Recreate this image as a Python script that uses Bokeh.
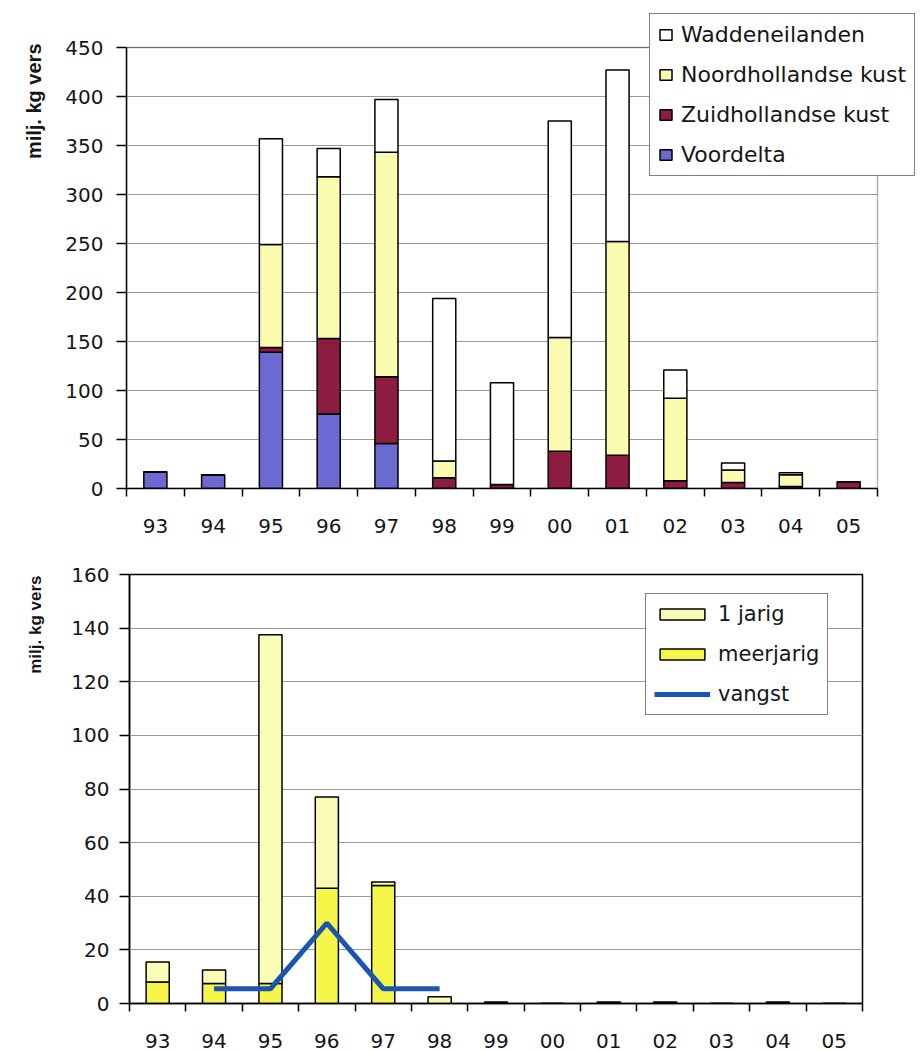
import math
from bokeh.plotting import figure
from bokeh.models import (Range1d, FixedTicker, Legend, LegendItem, ColumnDataSource,
                          BoxAnnotation, Title)
from bokeh.embed import file_html
from bokeh.resources import INLINE

# ---------------- data ----------------
years = ["93", "94", "95", "96", "97", "98", "99", "00", "01", "02", "03", "04", "05"]

# top chart (milj. kg vers), stacked bottom -> top
voordelta = [17, 14, 139, 76, 46, 0, 0, 0, 0, 0, 0, 0, 0]
zuidhollandse = [0, 0, 5, 77, 68, 11, 4, 38, 34, 8, 6, 2, 7]
noordhollandse = [0, 0, 105, 165, 229, 17, 0, 116, 218, 84, 13, 12, 0]
waddeneilanden = [0, 0, 108, 29, 54, 166, 104, 221, 175, 29, 7, 2, 0]

# bottom chart (Voordelta), stacked bottom -> top
meerjarig = [8, 7.5, 7.5, 43, 44, 0, 0, 0, 0, 0, 0, 0, 0]
eenjarig = [7.5, 5, 130, 34, 1.3, 2.5, 0.6, 0, 0.6, 0.6, 0, 0.6, 0]
vangst = [math.nan, 5.5, 5.5, 30, 5.5, 5.5, math.nan, math.nan, math.nan,
          math.nan, math.nan, math.nan, math.nan]

top_ticks = [0, 50, 100, 150, 200, 250, 300, 350, 400, 450]
bottom_ticks = [0, 20, 40, 60, 80, 100, 120, 140, 160]
y_label = "milj. kg vers"

# ---------------- styling ----------------
TICK_FONT = "DejaVu Sans"
LABEL_FONT = "Liberation Sans"
TXT = "#151515"
GRID = "#9a9a9a"

n = len(years)
xs = [i + 0.5 for i in range(n)]
bounds = list(range(n + 1))


def style(p, yticks, tick_standoff, label_size, label_standoff, label_offset):
    p.xgrid.visible = False
    p.background_fill_color = "white"
    p.border_fill_color = "white"

    xa = p.xaxis[0]
    xa.ticker = FixedTicker(ticks=xs, minor_ticks=bounds)
    xa.bounds = (0, n)
    xa.major_label_overrides = {x: y for x, y in zip(xs, years)}
    xa.major_tick_out = 0
    xa.major_tick_in = 0
    xa.minor_tick_out = 8
    xa.minor_tick_in = 0
    xa.minor_tick_line_color = "black"
    xa.minor_tick_line_width = 1.5
    xa.axis_line_color = "black"
    xa.axis_line_width = 1.5
    xa.major_label_text_font = TICK_FONT
    xa.major_label_text_font_size = "20px"
    xa.major_label_text_color = TXT
    xa.major_label_standoff = 22

    ya = p.yaxis[0]
    ya.ticker = FixedTicker(ticks=yticks)
    ya.bounds = (yticks[0], yticks[-1])
    ya.major_tick_out = 10
    ya.major_tick_in = 0
    ya.major_tick_line_color = "black"
    ya.major_tick_line_width = 1.5
    ya.minor_tick_line_color = None
    ya.axis_line_color = "black"
    ya.axis_line_width = 1.5
    ya.major_label_text_font = TICK_FONT
    ya.major_label_text_font_size = "20px"
    ya.major_label_text_color = TXT
    ya.major_label_standoff = tick_standoff

    t = Title(text=y_label, align="right", offset=label_offset,
              standoff=label_standoff, text_font=LABEL_FONT,
              text_font_style="bold", text_font_size=label_size,
              text_color=TXT)
    p.add_layout(t, "left")


# ---------------- top chart ----------------
# the frame is widened so that the legend may overlap the plot box edge
x_end = n * 792 / 751
y_end = top_ticks[-1] * 475 / 441

src1 = ColumnDataSource(dict(x=xs, voordelta=voordelta, zuid=zuidhollandse,
                             noord=noordhollandse, wadden=waddeneilanden))

p1 = figure(width=920, height=548, x_range=Range1d(0, x_end), y_range=Range1d(0, y_end),
            output_backend="svg", toolbar_location=None,
            min_border_left=126, min_border_right=2,
            min_border_top=13, min_border_bottom=60)
style(p1, top_ticks, 13, "20px", 36, 30)
p1.outline_line_color = None
p1.ygrid.visible = False
p1.segment(x0=0, x1=n, y0=top_ticks, y1=top_ticks, line_color=GRID,
           line_width=1, level="underlay")

r1 = p1.vbar_stack(["voordelta", "zuid", "noord", "wadden"], x="x", width=0.4,
                   fill_color=["#6a6ad2", "#8c1d40", "#fbfbb0", "#ffffff"],
                   line_color="black", line_width=1.5, source=src1)

p1.add_layout(BoxAnnotation(left=0, right=n, bottom=0, top=top_ticks[-1],
                            fill_alpha=0, line_color="black", line_width=1.5))

leg1 = Legend(items=[
    LegendItem(label="Waddeneilanden", renderers=[r1[3]]),
    LegendItem(label="Noordhollandse kust", renderers=[r1[2]]),
    LegendItem(label="Zuidhollandse kust", renderers=[r1[1]]),
    LegendItem(label="Voordelta", renderers=[r1[0]]),
], location=(523, 312))
leg1.label_text_font = TICK_FONT
leg1.label_text_font_size = "22px"
leg1.label_text_color = TXT
leg1.glyph_width = 15
leg1.glyph_height = 13
leg1.label_standoff = 8
leg1.label_height = 24
leg1.padding = 8
leg1.spacing = 15
leg1.margin = 0
leg1.border_line_color = "black"
leg1.border_line_width = 1.5
leg1.background_fill_color = "white"
leg1.background_fill_alpha = 1
p1.add_layout(leg1)

# ---------------- bottom chart ----------------
src2 = ColumnDataSource(dict(x=xs, meer=meerjarig, een=eenjarig, vangst=vangst))

p2 = figure(width=920, height=503, x_range=Range1d(0, n), y_range=Range1d(0, 160),
            output_backend="svg", toolbar_location=None,
            min_border_left=129, min_border_right=58,
            min_border_top=26, min_border_bottom=48)
style(p2, bottom_ticks, 10, "17px", 47, 1)
p2.outline_line_color = "black"
p2.outline_line_width = 1.5
p2.outline_line_alpha = 1
p2.ygrid.grid_line_color = GRID
p2.ygrid.grid_line_width = 1

r2 = p2.vbar_stack(["meer", "een"], x="x", width=0.41,
                   fill_color=["#f6f64a", "#fbfbb8"],
                   line_color="black", line_width=1.5, source=src2)
rl = p2.line(x="x", y="vangst", source=src2, line_width=5, line_color="#1a56b0")

leg2 = Legend(items=[
    LegendItem(label="1 jarig", renderers=[r2[1]]),
    LegendItem(label="meerjarig", renderers=[r2[0]]),
    LegendItem(label="vangst", renderers=[rl]),
], location=(516, 288))
leg2.label_text_font = TICK_FONT
leg2.label_text_font_size = "21px"
leg2.label_text_color = TXT
leg2.glyph_width = 56
leg2.glyph_height = 14
leg2.label_standoff = 8
leg2.label_height = 24
leg2.padding = 8
leg2.spacing = 16
leg2.margin = 0
leg2.border_line_color = "black"
leg2.border_line_width = 1.5
leg2.background_fill_color = "white"
leg2.background_fill_alpha = 1
p2.add_layout(leg2)

open("out.html", "w").write(file_html([p1, p2], INLINE))
